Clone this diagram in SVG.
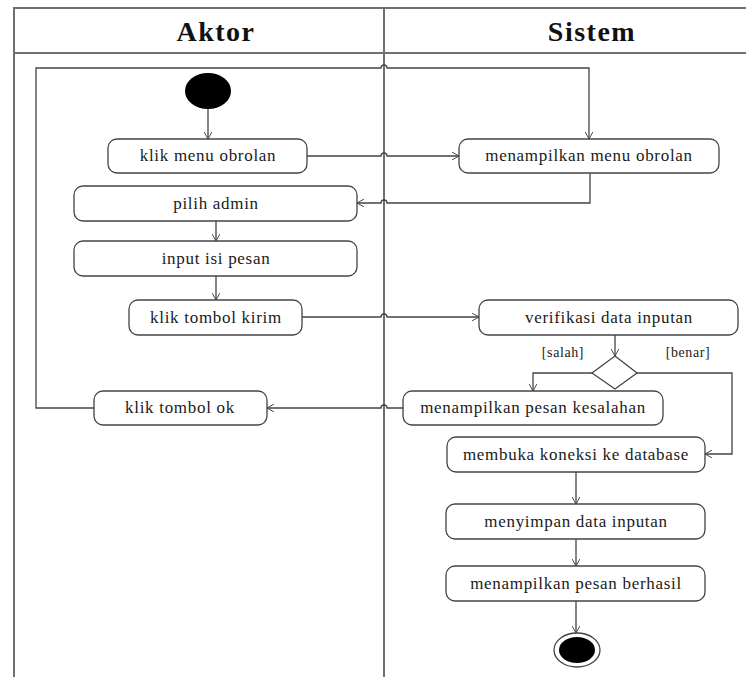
<svg xmlns="http://www.w3.org/2000/svg" width="746" height="677" viewBox="0 0 746 677">
<style>
.frame{fill:none;stroke:#707070;stroke-width:2}
.node{fill:#fff;stroke:#444;stroke-width:1.3}
.lbl{font-family:"Liberation Serif","Times New Roman",serif;font-size:17px;letter-spacing:0.7px;fill:#1a1a1a;text-anchor:middle}
.guard{font-family:"Liberation Serif","Times New Roman",serif;font-size:14px;letter-spacing:0.6px;fill:#1a1a1a;text-anchor:middle}
.head{font-family:"Liberation Serif","Times New Roman",serif;font-size:28px;font-weight:bold;letter-spacing:1.5px;fill:#111;text-anchor:middle}
.edge{fill:none;stroke:#444;stroke-width:1.3}
</style>
<defs>
<marker id="arr" viewBox="0 0 10 10" refX="9" refY="5" markerWidth="8" markerHeight="8" markerUnits="userSpaceOnUse" orient="auto">
<path d="M0,0 L9,5 L0,10" fill="none" stroke="#444" stroke-width="1.2"/>
</marker>
</defs>
<rect width="746" height="677" fill="#fff"/>
<g id="lanes">
<path class="frame" d="M14,677 V8 H746"/>
<path class="frame" d="M14,53 H746"/>
<path class="frame" d="M384,8 V677"/>
<text class="head" x="216" y="41">Aktor</text>
<text class="head" x="592" y="41">Sistem</text>
</g>
<g id="connectors">
<path class="edge" d="M208,109 V139" marker-end="url(#arr)"/>
<path class="edge" d="M307,156 H381 A3,3 0 0 1 387,156 H459" marker-end="url(#arr)"/>
<path class="edge" d="M590,173 V203 H387 A3,3 0 0 0 381,203 H357" marker-end="url(#arr)"/>
<path class="edge" d="M216,221 V241" marker-end="url(#arr)"/>
<path class="edge" d="M216,276 V300" marker-end="url(#arr)"/>
<path class="edge" d="M302,317 H381 A3,3 0 0 1 387,317 H479" marker-end="url(#arr)"/>
<path class="edge" d="M615,335 V356" marker-end="url(#arr)"/>
<path class="edge" d="M592,373 H533 V391" marker-end="url(#arr)"/>
<path class="edge" d="M637,373 H732 V454 H705" marker-end="url(#arr)"/>
<path class="edge" d="M403,408 H387 A3,3 0 0 0 381,408 H267" marker-end="url(#arr)"/>
<path class="edge" d="M94,408 H36 V68 H381 A3,3 0 0 1 387,68 H589 V139" marker-end="url(#arr)"/>
<path class="edge" d="M576,472 V504" marker-end="url(#arr)"/>
<path class="edge" d="M576,539 V566" marker-end="url(#arr)"/>
<path class="edge" d="M576,601 V633" marker-end="url(#arr)"/>
<text class="guard" x="563" y="357">[salah]</text>
<text class="guard" x="688" y="357">[benar]</text>
</g>
<g id="start"><ellipse cx="208" cy="91" rx="23" ry="18" fill="#000"/></g>
<g id="n1"><rect class="node" x="108" y="139" width="199" height="34" rx="9"/><text class="lbl" x="208" y="161">klik menu obrolan</text></g>
<g id="n2"><rect class="node" x="459" y="139" width="260" height="34" rx="9"/><text class="lbl" x="589" y="161">menampilkan menu obrolan</text></g>
<g id="n3"><rect class="node" x="74" y="186" width="283" height="35" rx="9"/><text class="lbl" x="216" y="209">pilih admin</text></g>
<g id="n4"><rect class="node" x="74" y="241" width="283" height="35" rx="9"/><text class="lbl" x="216" y="264">input isi pesan</text></g>
<g id="n5"><rect class="node" x="129" y="300" width="173" height="35" rx="9"/><text class="lbl" x="216" y="323">klik tombol kirim</text></g>
<g id="n6"><rect class="node" x="479" y="300" width="259" height="35" rx="9"/><text class="lbl" x="609" y="323">verifikasi data inputan</text></g>
<g id="decision"><polygon class="node" points="615,356 637,373 615,389 592,373"/></g>
<g id="n7"><rect class="node" x="403" y="391" width="260" height="34" rx="9"/><text class="lbl" x="533" y="413">menampilkan pesan kesalahan</text></g>
<g id="n8"><rect class="node" x="94" y="391" width="173" height="34" rx="9"/><text class="lbl" x="180" y="413">klik tombol ok</text></g>
<g id="n9"><rect class="node" x="447" y="437" width="258" height="35" rx="9"/><text class="lbl" x="576" y="460">membuka koneksi ke database</text></g>
<g id="n10"><rect class="node" x="446" y="504" width="259" height="35" rx="9"/><text class="lbl" x="576" y="527">menyimpan data inputan</text></g>
<g id="n11"><rect class="node" x="446" y="566" width="259" height="35" rx="9"/><text class="lbl" x="576" y="589">menampilkan pesan berhasil</text></g>
<g id="end"><ellipse cx="577" cy="650" rx="23" ry="17" fill="#fff" stroke="#444" stroke-width="1.3"/><ellipse cx="577" cy="650" rx="18" ry="13" fill="#000"/></g>
</svg>
